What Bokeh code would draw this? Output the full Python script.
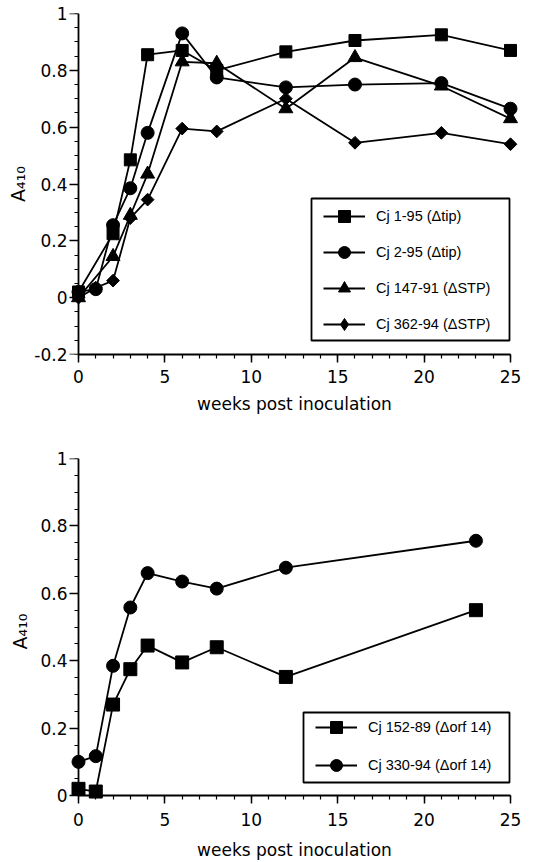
import numpy as np
from bokeh.plotting import figure
from bokeh.models import (Range1d, FixedTicker, Legend, LegendItem, BoxAnnotation,
                          LinearAxis)
from bokeh.layouts import column
from bokeh.embed import file_html
from bokeh.resources import INLINE

# ---------------- data ----------------
# top panel
top_weeks_cj1_95 = [0, 2, 3, 4, 6, 8, 12, 16, 21, 25]
top_a410_cj1_95 = [0.02, 0.225, 0.485, 0.855, 0.87, 0.80, 0.865, 0.905, 0.925, 0.87]

top_weeks_cj2_95 = [0, 1, 2, 3, 4, 6, 8, 12, 16, 21, 25]
top_a410_cj2_95 = [0.02, 0.03, 0.255, 0.385, 0.58, 0.93, 0.775, 0.74, 0.75, 0.755, 0.665]

top_weeks_cj147_91 = [0, 2, 3, 4, 6, 8, 12, 16, 21, 25]
top_a410_cj147_91 = [0.0, 0.145, 0.29, 0.435, 0.83, 0.825, 0.665, 0.845, 0.745, 0.63]

top_weeks_cj362_94 = [0, 1, 2, 3, 4, 6, 8, 12, 16, 21, 25]
top_a410_cj362_94 = [0.0, 0.035, 0.06, 0.28, 0.345, 0.595, 0.585, 0.70, 0.545, 0.58, 0.54]

top_labels = ["Cj 1-95 (\u0394tip)", "Cj 2-95 (\u0394tip)",
              "Cj 147-91 (\u0394STP)", "Cj 362-94 (\u0394STP)"]

# bottom panel
bot_weeks_cj152_89 = [0, 1, 2, 3, 4, 6, 8, 12, 23]
bot_a410_cj152_89 = [0.02, 0.012, 0.27, 0.375, 0.445, 0.395, 0.44, 0.352, 0.55]

bot_weeks_cj330_94 = [0, 1, 2, 3, 4, 6, 8, 12, 23]
bot_a410_cj330_94 = [0.10, 0.117, 0.385, 0.558, 0.66, 0.635, 0.614, 0.676, 0.756]

bot_labels = ["Cj 152-89 (\u0394orf 14)", "Cj 330-94 (\u0394orf 14)"]

# axes
x_ticks = [0, 5, 10, 15, 20, 25]
x_tick_labels = ["0", "5", "10", "15", "20", "25"]
x_minor = list(range(0, 26))
y_ticks_top = [-0.2, 0.0, 0.2, 0.4, 0.6, 0.8, 1.0]
y_tick_labels_top = ["-0.2", "0", "0.2", "0.4", "0.6", "0.8", "1"]
y_minor_top = [round(-0.2 + 0.05 * i, 2) for i in range(25)]
y_ticks_bot = [0.0, 0.2, 0.4, 0.6, 0.8, 1.0]
y_tick_labels_bot = ["0", "0.2", "0.4", "0.6", "0.8", "1"]
y_minor_bot = [round(0.05 * i, 2) for i in range(21)]
x_title = "weeks post inoculation"
y_title = "A\u2084\u2081\u2080"

# ---------------- styling ----------------
FIG_W = 538
BL, BR = 68, 18
PX_PER_WEEK = 432 / 25.0
PADX = 10 / PX_PER_WEEK
FONT = "DejaVu Sans"
TICK_SIZE = "17px"
LW = 1.8


def base(p):
    p.outline_line_color = None
    p.xgrid.visible = False
    p.ygrid.visible = False
    p.background_fill_color = "white"
    p.border_fill_color = "white"


def tick_style(ax):
    ax.axis_line_width = LW
    ax.axis_line_color = "black"
    ax.major_tick_line_width = 1.5
    ax.minor_tick_line_width = 1.2
    ax.major_tick_line_color = "black"
    ax.minor_tick_line_color = "black"


def label_style(ax):
    ax.major_label_text_font = FONT
    ax.major_label_text_font_size = TICK_SIZE
    ax.major_label_text_color = "black"
    ax.axis_label_text_font = FONT
    ax.axis_label_text_font_size = TICK_SIZE
    ax.axis_label_text_font_style = "normal"
    ax.axis_label_text_color = "black"


def no_ticks(ax):
    ax.axis_line_color = None
    ax.major_tick_line_color = None
    ax.minor_tick_line_color = None
    ax.major_tick_in = 0
    ax.major_tick_out = 0
    ax.minor_tick_in = 0
    ax.minor_tick_out = 0


def fixed_axis(ticks, minor, bounds, loc, tick_len):
    # axis line + ticks only, drawn at a data location; ticks point outward
    ax = LinearAxis(ticker=FixedTicker(ticks=ticks, minor_ticks=minor),
                    fixed_location=loc, bounds=bounds,
                    major_label_overrides={t: "" for t in ticks},
                    major_label_text_font_size="1px", major_label_standoff=0)
    tick_style(ax)
    ax.major_tick_in = tick_len
    ax.major_tick_out = 0
    ax.minor_tick_in = 4
    ax.minor_tick_out = 0
    return ax


def series(p, xs, ys, marker, size, angle=0.0):
    lr = p.line(xs, ys, line_color="black", line_width=LW)
    sr = p.scatter(xs, ys, marker=marker, size=size, angle=angle,
                   fill_color="black", line_color="black")
    return [lr, sr]


def make_legend(p, items, loc, spacing, box):
    left, right, top, bottom = box
    p.add_layout(BoxAnnotation(left=left, right=right, top=top, bottom=bottom,
                               left_units="screen", right_units="screen",
                               top_units="screen", bottom_units="screen",
                               fill_alpha=0.0, line_color="black", line_alpha=1.0,
                               line_width=LW, level="annotation"))
    leg = Legend(items=items, location=loc, padding=0, margin=0, spacing=spacing,
                 glyph_height=30, glyph_width=42, label_height=30, label_standoff=11,
                 label_text_font="Liberation Sans", label_text_font_size="14.5px",
                 label_text_color="black", border_line_color=None,
                 background_fill_alpha=0.0)
    p.add_layout(leg)


# ---------------- top chart ----------------
p1 = figure(width=FIG_W, height=428, output_backend="svg", toolbar_location=None,
            x_range=Range1d(-PADX, 25 + PADX), y_range=Range1d(-0.2, 1.0),
            min_border_left=BL, min_border_right=BR, min_border_top=13, min_border_bottom=74)
base(p1)
xa = p1.xaxis[0]
xa.ticker = FixedTicker(ticks=x_ticks, minor_ticks=x_minor)
xa.major_label_overrides = {t: s for t, s in zip(x_ticks, x_tick_labels)}
xa.bounds = (0, 25)
tick_style(xa)
label_style(xa)
xa.major_tick_in = 0
xa.major_tick_out = 8
xa.minor_tick_in = 0
xa.minor_tick_out = 4
xa.major_label_standoff = 7
xa.axis_label = x_title
xa.axis_label_standoff = 8

ya = p1.yaxis[0]
ya.ticker = FixedTicker(ticks=y_ticks_top)
ya.major_label_overrides = {t: s for t, s in zip(y_ticks_top, y_tick_labels_top)}
no_ticks(ya)
label_style(ya)
ya.axis_label_text_font_size = "19px"
ya.major_label_standoff = 1
ya.axis_label = y_title
ya.axis_label_standoff = 2
p1.add_layout(fixed_axis(y_ticks_top, y_minor_top, (-0.2, 1.0), 0, 9), "right")

r_a = series(p1, top_weeks_cj362_94, top_a410_cj362_94, "square", 9, np.pi / 4)
r_a_leg = p1.scatter(top_weeks_cj362_94, top_a410_cj362_94, marker="diamond", size=13,
                     fill_color="black", line_color="black", visible=False)
r_t = series(p1, top_weeks_cj147_91, top_a410_cj147_91, "triangle", 14)
r_c = series(p1, top_weeks_cj2_95, top_a410_cj2_95, "circle", 13)
r_s = series(p1, top_weeks_cj1_95, top_a410_cj1_95, "square", 12)

make_legend(p1, [LegendItem(label=top_labels[0], renderers=r_s),
                 LegendItem(label=top_labels[1], renderers=r_c),
                 LegendItem(label=top_labels[2], renderers=r_t),
                 LegendItem(label=top_labels[3], renderers=[r_a[0], r_a_leg])],
            (255, 15), 6, (243, 441, 156, 14))

# ---------------- bottom chart ----------------
PADY = 9 / 340.0
p2 = figure(width=FIG_W, height=434, output_backend="svg", toolbar_location=None,
            x_range=Range1d(-PADX, 25 + PADX), y_range=Range1d(-PADY, 1.0),
            min_border_left=BL, min_border_right=BR, min_border_top=30, min_border_bottom=55)
base(p2)
xb = p2.xaxis[0]
xb.ticker = FixedTicker(ticks=x_ticks)
xb.major_label_overrides = {t: s for t, s in zip(x_ticks, x_tick_labels)}
no_ticks(xb)
label_style(xb)
xb.major_label_standoff = 8
xb.axis_label = x_title
xb.axis_label_standoff = 11
p2.add_layout(fixed_axis(x_ticks, x_minor, (0, 25), 0, 8), "above")

yb = p2.yaxis[0]
yb.ticker = FixedTicker(ticks=y_ticks_bot)
yb.major_label_overrides = {t: s for t, s in zip(y_ticks_bot, y_tick_labels_bot)}
no_ticks(yb)
label_style(yb)
yb.axis_label_text_font_size = "19px"
yb.major_label_standoff = 1
yb.axis_label = y_title
yb.axis_label_standoff = 6
p2.add_layout(fixed_axis(y_ticks_bot, y_minor_bot, (0.0, 1.0), 0, 9), "right")

b_s = series(p2, bot_weeks_cj152_89, bot_a410_cj152_89, "square", 13)
b_c = series(p2, bot_weeks_cj330_94, bot_a410_cj330_94, "circle", 13)

make_legend(p2, [LegendItem(label=bot_labels[0], renderers=b_s),
                 LegendItem(label=bot_labels[1], renderers=b_c)],
            (247, 24), 8, (235, 441, 92, 22))

layout = column(p1, p2, spacing=0)
open("out.html", "w").write(file_html(layout, INLINE))
